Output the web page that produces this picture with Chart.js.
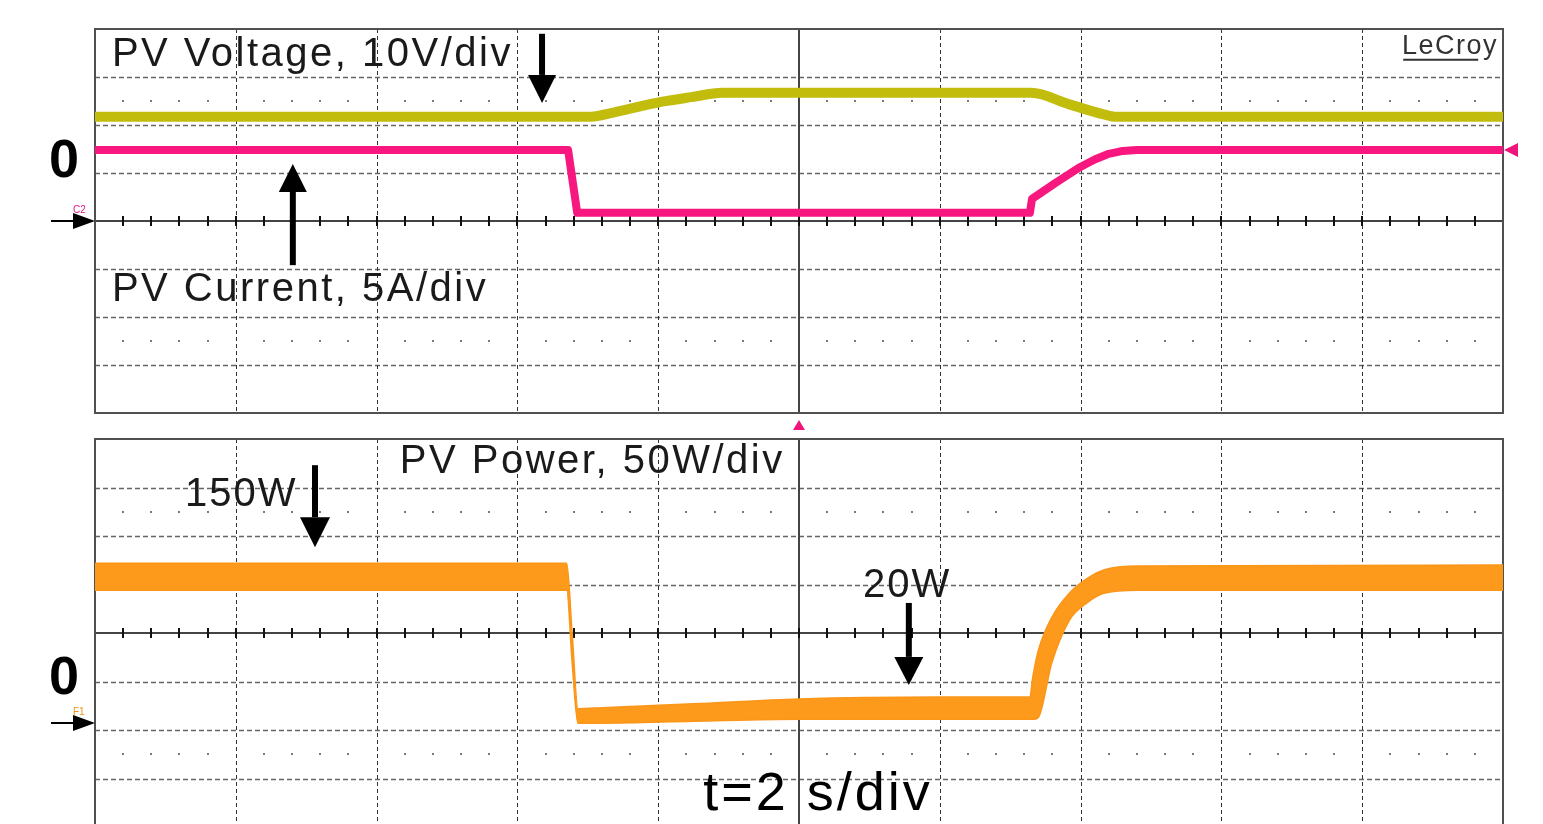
<!DOCTYPE html>
<html>
<head>
<meta charset="utf-8">
<script src="https://cdn.jsdelivr.net/npm/chart.js@4.4.1/dist/chart.umd.min.js"></script>
<style>
  html, body { margin: 0; padding: 0; background: #fff; overflow: hidden; }
  canvas { position: absolute; left: 0; top: 0; }
</style>
</head>
<body>
<canvas id="scopeTop" width="1543" height="824"></canvas>
<canvas id="scopeBottom" width="1543" height="840"></canvas>
<script>
// time base: 2 s/div, 10 divisions
const timeMin = 0, timeMax = 20;

// PV voltage (V), 10 V/div
const voltT = [0, 7.0, 7.39, 8.04, 8.47, 8.91, 13.3, 13.84, 14.33, 14.5, 20];
const voltV = [21.7, 21.7, 22.7, 24.8, 25.8, 26.7, 26.7, 24.3, 22.2, 21.7, 21.7];

// PV current (A), 5 A/div
const currT = [0, 6.72, 6.85, 10, 13.28, 13.31, 13.65, 13.99, 14.2, 14.4, 14.6, 14.8, 20];
const currA = [7.4, 7.4, 0.85, 0.85, 0.85, 2.3, 4.0, 5.6, 6.4, 7.0, 7.3, 7.4, 7.4];

// PV power (W), 50 W/div -- upper and lower edge of the noisy trace
const powT   = [0, 6.70, 6.78, 6.86, 7.2, 8.5, 10, 12, 13.28, 13.32, 13.40, 13.59, 13.84, 14.09, 14.33, 14.82, 20];
const powTop = [165, 165, 90, 15, 16, 20, 25, 27, 27, 47, 75, 109, 134, 149, 158, 162, 163];
const powBot = [137, 137, 60, 0, 0, 2, 4, 4, 4, 4, 6, 62, 106, 124, 134, 137, 137];

const FONT = '"Liberation Sans", Arial, sans-serif';
const pts = (xs, ys) => xs.map((x, i) => ({ x, y: ys[i] }));

function label(ctx, text, x, y, size, o = {}) {
  ctx.save();
  ctx.font = `${o.weight || 'normal'} ${size}px ${FONT}`;
  ctx.letterSpacing = (o.spacing ?? 2.5) + 'px';
  ctx.fillStyle = o.color || '#1a1a1a';
  ctx.textAlign = o.align || 'left';
  ctx.textBaseline = 'alphabetic';
  ctx.fillText(text, x, y);
  ctx.restore();
}

function vArrow(ctx, x, yTail, yTip, headLen = 28, headW = 28, shaft = 6) {
  const dir = yTip > yTail ? 1 : -1;
  const yBase = yTip - dir * headLen;
  ctx.save();
  ctx.fillStyle = '#000';
  ctx.fillRect(x - shaft / 2, Math.min(yTail, yBase), shaft, Math.abs(yBase - yTail));
  ctx.beginPath();
  ctx.moveTo(x, yTip);
  ctx.lineTo(x - headW / 2, yBase);
  ctx.lineTo(x + headW / 2, yBase);
  ctx.closePath();
  ctx.fill();
  ctx.restore();
}

function groundArrow(ctx, xTip, y, tag, tagColor) {
  ctx.save();
  ctx.strokeStyle = '#000';
  ctx.fillStyle = '#000';
  ctx.lineWidth = 2;
  ctx.beginPath(); ctx.moveTo(xTip - 44, y); ctx.lineTo(xTip - 16, y); ctx.stroke();
  ctx.beginPath();
  ctx.moveTo(xTip, y); ctx.lineTo(xTip - 22, y - 8); ctx.lineTo(xTip - 22, y + 8);
  ctx.closePath(); ctx.fill();
  ctx.font = `10px ${FONT}`;
  ctx.fillStyle = tagColor;
  ctx.fillText(tag, xTip - 22, y - 8);
  ctx.restore();
}

// oscilloscope graticule, drawn from the chart's own scales
const scopeGrid = {
  id: 'scopeGrid',
  beforeDatasetsDraw(chart) {
    const { ctx, chartArea: a } = chart;
    const x = chart.scales.x, g = chart.scales.yGrid;
    ctx.save();
    // dotted rows at +-2.5 div
    ctx.fillStyle = '#7a7a7a';
    for (const d of [2.5, -2.5]) {
      const y = Math.round(g.getPixelForValue(d));
      for (let i = 1; i < 50; i++) {
        if (i % 5 === 0) continue;
        ctx.fillRect(Math.round(x.getPixelForValue(i * 0.4)) - 1, y - 1, 2, 2);
      }
    }
    // horizontal dashed lines
    ctx.setLineDash([5, 3]);
    ctx.strokeStyle = '#666';
    ctx.lineWidth = 1.5;
    for (const d of [-3, -2, -1, 1, 2, 3]) {
      const y = Math.round(g.getPixelForValue(d)) + 0.5;
      ctx.beginPath(); ctx.moveTo(a.left, y); ctx.lineTo(a.right, y); ctx.stroke();
    }
    // vertical dashed lines
    ctx.setLineDash([4, 3]);
    ctx.strokeStyle = '#333';
    ctx.lineWidth = 1;
    for (let i = 1; i < 10; i++) {
      if (i === 5) continue;
      const px = Math.round(x.getPixelForValue(i * 2)) + 0.5;
      ctx.beginPath(); ctx.moveTo(px, a.top); ctx.lineTo(px, a.bottom); ctx.stroke();
    }
    // centre axes
    ctx.setLineDash([]);
    ctx.strokeStyle = '#444';
    ctx.lineWidth = 2;
    const y0 = Math.round(g.getPixelForValue(0));
    const x0 = Math.round(x.getPixelForValue(10));
    ctx.beginPath(); ctx.moveTo(a.left, y0); ctx.lineTo(a.right, y0); ctx.stroke();
    ctx.beginPath(); ctx.moveTo(x0, a.top); ctx.lineTo(x0, a.bottom); ctx.stroke();
    ctx.strokeStyle = '#111';
    for (let i = 1; i < 50; i++) {
      const px = Math.round(x.getPixelForValue(i * 0.4));
      ctx.beginPath(); ctx.moveTo(px, y0 - 5); ctx.lineTo(px, y0 + 5); ctx.stroke();
    }
    // frame
    ctx.strokeStyle = '#505050';
    ctx.lineWidth = 2;
    ctx.strokeRect(a.left, a.top, a.right - a.left, a.bottom - a.top);
    ctx.restore();
  }
};

const topNotes = {
  id: 'topNotes',
  afterDraw(chart) {
    const { ctx, chartArea: a } = chart;
    const X = t => chart.scales.x.getPixelForValue(t);
    const G = d => chart.scales.yGrid.getPixelForValue(d);
    const I = v => chart.scales.yI.getPixelForValue(v);
    label(ctx, 'PV Voltage, 10V/div', X(0.24), G(3.23), 40);
    vArrow(ctx, X(6.35), G(3.9), G(2.46));
    label(ctx, 'PV Current, 5A/div', X(0.24), G(-1.67), 40);
    vArrow(ctx, X(2.81), G(-0.92), G(1.19));
    label(ctx, 'LeCroy', X(19.93), G(3.48), 27, { align: 'right', spacing: 1.5, color: '#333' });
    ctx.save();
    ctx.strokeStyle = '#333'; ctx.lineWidth = 2;
    ctx.beginPath(); ctx.moveTo(X(19.96) - 97, G(3.36)); ctx.lineTo(X(19.96) - 22, G(3.36)); ctx.stroke();
    ctx.restore();
    label(ctx, '0', a.left - 16, G(0.92), 54, { align: 'right', weight: 'bold', spacing: 0, color: '#000' });
    groundArrow(ctx, a.left, Math.round(I(0)), 'C2', '#f0147c');
    // channel 2 level marker at right edge
    ctx.save();
    ctx.fillStyle = '#f0147c';
    const ym = I(currA[currA.length - 1]);
    ctx.beginPath(); ctx.moveTo(a.right + 1, ym); ctx.lineTo(a.right + 15, ym - 7); ctx.lineTo(a.right + 15, ym + 7); ctx.closePath(); ctx.fill();
    // trigger marker
    const xt = X(10);
    ctx.beginPath(); ctx.moveTo(xt, a.bottom + 7); ctx.lineTo(xt - 6, a.bottom + 17); ctx.lineTo(xt + 6, a.bottom + 17); ctx.closePath(); ctx.fill();
    ctx.restore();
  }
};

const bottomNotes = {
  id: 'bottomNotes',
  afterDraw(chart) {
    const { ctx, chartArea: a } = chart;
    const X = t => chart.scales.x.getPixelForValue(t);
    const G = d => chart.scales.yGrid.getPixelForValue(d);
    const P = v => chart.scales.yP.getPixelForValue(v);
    label(ctx, 'PV Power, 50W/div', X(4.33), G(3.30), 40);
    label(ctx, '150W', X(1.28), G(2.62), 40, { spacing: 2 });
    vArrow(ctx, X(3.125), G(3.46), G(1.77), 30, 30);
    label(ctx, '20W', X(10.91), G(0.74), 40, { spacing: 2 });
    vArrow(ctx, X(11.56), G(0.62), G(-1.07), 28, 29);
    label(ctx, 't=2 s/div', X(8.64), G(-3.65), 54, { spacing: 3, color: '#000' });
    label(ctx, '0', a.left - 16, G(-1.26), 54, { align: 'right', weight: 'bold', spacing: 0, color: '#000' });
    groundArrow(ctx, a.left, Math.round(P(0)), 'F1', '#f39018');
  }
};

const common = (padding, yScales) => ({
  responsive: false,
  animation: false,
  events: [],
  layout: { padding },
  plugins: { legend: { display: false }, tooltip: { enabled: false } },
  elements: { point: { radius: 0 } },
  scales: Object.assign({
    x: { type: 'linear', min: timeMin, max: timeMax, display: false },
    yGrid: { type: 'linear', min: -4, max: 4, display: false }
  }, yScales)
});

new Chart(document.getElementById('scopeTop'), {
  type: 'line',
  data: {
    datasets: [
      { label: 'PV Voltage', data: pts(voltT, voltV), yAxisID: 'yV',
        borderColor: '#c2bd0c', borderWidth: 10, cubicInterpolationMode: 'monotone' },
      { label: 'PV Current', data: pts(currT, currA), yAxisID: 'yI',
        borderColor: '#f7177f', borderWidth: 8, borderJoinStyle: 'round' }
    ]
  },
  options: common({ left: 95, right: 40, top: 29, bottom: 411 }, {
    yV: { type: 'linear', min: -40, max: 40, display: false },
    yI: { type: 'linear', min: -20, max: 20, display: false }
  }),
  plugins: [scopeGrid, topNotes]
});

new Chart(document.getElementById('scopeBottom'), {
  type: 'line',
  data: {
    datasets: [
      { label: 'PV Power max', data: pts(powT, powTop), yAxisID: 'yP',
        borderColor: '#fb9618', borderWidth: 1.5, fill: false, cubicInterpolationMode: 'monotone' },
      { label: 'PV Power min', data: pts(powT, powBot), yAxisID: 'yP',
        borderColor: '#fb9618', borderWidth: 1.5, backgroundColor: '#fd9a1c', fill: '-1',
        cubicInterpolationMode: 'monotone' }
    ]
  },
  options: common({ left: 95, right: 40, top: 439, bottom: 13 }, {
    yP: { type: 'linear', min: -107, max: 293, display: false }
  }),
  plugins: [scopeGrid, bottomNotes]
});
</script>
</body>
</html>
